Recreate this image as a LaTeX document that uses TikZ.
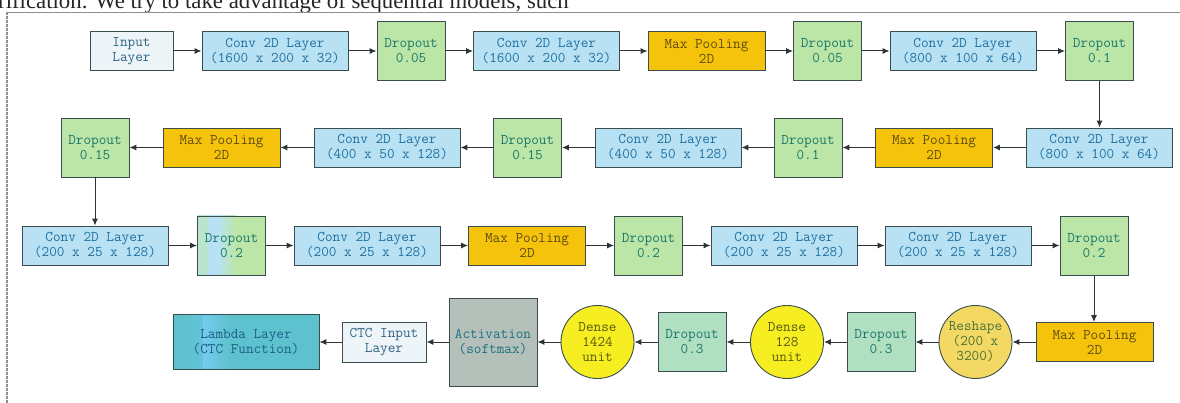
\documentclass[tikz,border=0pt]{standalone}
\usepackage{fontspec}
\setmainfont{Liberation Serif}
\usetikzlibrary{arrows.meta}

\definecolor{convfill}{HTML}{B8E2F4}
\definecolor{dropfill}{HTML}{BCE5A8}
\definecolor{mintfill}{HTML}{B0DFC2}
\definecolor{poolfill}{HTML}{F6C30C}
\definecolor{densefill}{HTML}{F7EE22}
\definecolor{reshapefill}{HTML}{F3D863}
\definecolor{actfill}{HTML}{B5C0BB}
\definecolor{lambdafill}{HTML}{5EC2CE}
\definecolor{lambdaband}{HTML}{74CBEF}
\definecolor{inputfill}{HTML}{EEF5F8}
\definecolor{edgecol}{HTML}{3A4C4C}
\definecolor{convtext}{HTML}{1F70A0}
\definecolor{droptext}{HTML}{1A7868}
\definecolor{pooltext}{HTML}{5E4C0E}
\definecolor{densetext}{HTML}{55590A}
\definecolor{reshapetext}{HTML}{4A7236}
\definecolor{inputtext}{HTML}{2F6284}
\definecolor{acttext}{HTML}{187080}
\definecolor{arrowcol}{HTML}{2E3434}
\definecolor{framecol}{HTML}{8A8F8F}

\begin{document}
\begin{tikzpicture}[x=1pt, y=-1pt,
  layer/.style={draw=edgecol, line width=0.9pt, align=center, inner sep=0pt,
    font=\ttfamily\fontsize{14.8}{15}\selectfont},
  inputbox/.style={layer, fill=inputfill, text=inputtext, minimum width=83, minimum height=39},
  convbox/.style={layer, fill=convfill, text=convtext, minimum width=146, minimum height=39},
  dropbox/.style={layer, fill=dropfill, text=droptext, minimum width=68, minimum height=59},
  mintbox/.style={layer, fill=mintfill, text=droptext, minimum width=68, minimum height=59},
  poolbox/.style={layer, fill=poolfill, text=pooltext, minimum width=117, minimum height=39},
  densecirc/.style={layer, circle, fill=densefill, text=densetext, minimum size=73},
  reshapecirc/.style={layer, circle, fill=reshapefill, text=reshapetext, minimum size=73},
  arr/.style={draw=arrowcol, line width=1pt, -{Latex[length=7pt,width=6pt]}}
]
\clip (0,0) rectangle (1180,403);
\fill[white] (0,0) rectangle (1180,403);

% running text of the page above the figure
\node[anchor=base west, inner sep=0pt, font=\fontsize{22.8}{26}\selectfont, text=black!85]
  (pagetext) at (-2,8.5) {rification. We try to take advantage of sequential models, such};

% figure frame
\draw[framecol, line width=0.8pt] (7,12) -- (1180,12);
\draw[framecol, line width=1.2pt, dash pattern=on 3pt off 1pt] (7,12) -- (7,403);

% row 1 (left to right)
\node[inputbox] (in1) at (131.5,51) {Input\\Layer};
\node[convbox]  (c1)  at (275,51)   {Conv 2D Layer\\(1600 x 200 x 32)};
\node[dropbox]  (d1)  at (411,51)   {Dropout\\0.05};
\node[convbox]  (c2)  at (546.5,51) {Conv 2D Layer\\(1600 x 200 x 32)};
\node[poolbox]  (m1)  at (706.5,51) {Max Pooling\\2D};
\node[dropbox]  (d2)  at (827.5,51) {Dropout\\0.05};
\node[convbox]  (c3)  at (963,51)   {Conv 2D Layer\\(800 x 100 x 64)};
\node[dropbox]  (d3)  at (1099.5,51) {Dropout\\0.1};

% row 2 (right to left)
\node[convbox]  (c4)  at (1099,147.5) {Conv 2D Layer\\(800 x 100 x 64)};
\node[poolbox]  (m2)  at (934,147.5)  {Max Pooling\\2D};
\node[dropbox]  (d4)  at (808,147.5)  {Dropout\\0.1};
\node[convbox]  (c5)  at (668,147.5)  {Conv 2D Layer\\(400 x 50 x 128)};
\node[dropbox]  (d5)  at (527.5,147.5) {Dropout\\0.15};
\node[convbox]  (c6)  at (387,147.5)  {Conv 2D Layer\\(400 x 50 x 128)};
\node[poolbox]  (m3)  at (221.5,147.5) {Max Pooling\\2D};
\node[dropbox]  (d6)  at (95,147.5)   {Dropout\\0.15};

% row 3 (left to right)
\node[convbox]  (c7)  at (95,245.5)   {Conv 2D Layer\\(200 x 25 x 128)};
\node[dropbox, path picture={
    \shade[left color=dropfill!55!convfill, right color=convfill]
      (path picture bounding box.south west) rectangle ++(10,-60);
    \fill[convfill] ([xshift=10pt]path picture bounding box.south west) rectangle ++(10,-60);
    \shade[left color=convfill, right color=dropfill]
      ([xshift=20pt]path picture bounding box.south west) rectangle ++(18,-60);
  }]            (d7)  at (231.5,245.5) {Dropout\\0.2};
\node[convbox]  (c8)  at (367,245.5)  {Conv 2D Layer\\(200 x 25 x 128)};
\node[poolbox]  (m4)  at (527,245.5)  {Max Pooling\\2D};
\node[dropbox]  (d8)  at (648.5,245.5) {Dropout\\0.2};
\node[convbox]  (c9)  at (784,245.5)  {Conv 2D Layer\\(200 x 25 x 128)};
\node[convbox]  (c10) at (958,245.5)  {Conv 2D Layer\\(200 x 25 x 128)};
\node[dropbox]  (d9)  at (1094,245.5) {Dropout\\0.2};

% row 4 (right to left)
\node[poolbox]     (m5)  at (1094.5,342) {Max Pooling\\2D};
\node[reshapecirc] (rs)  at (975.5,342)  {Reshape\\(200 x\\3200)};
\node[mintbox]     (d10) at (881,342)    {Dropout\\0.3};
\node[densecirc]   (dn1) at (787,342)    {Dense\\128\\unit};
\node[mintbox]     (d11) at (692,342)    {Dropout\\0.3};
\node[densecirc]   (dn2) at (597.5,342)  {Dense\\1424\\unit};
\node[layer, fill=actfill, text=acttext, minimum width=88, minimum height=88]
                   (act) at (493,342)    {Activation\\(softmax)};
\node[inputbox, minimum width=84, minimum height=40]
                   (ctc) at (384,342)    {CTC Input\\Layer};
\node[layer, fill=lambdafill, text=convtext!85!black, minimum width=146, minimum height=55,
  path picture={
    \shade[left color=lambdafill, right color=lambdaband]
      ([xshift=18pt]path picture bounding box.south west) rectangle ++(12,-56);
    \shade[left color=lambdaband, right color=lambdafill]
      ([xshift=30pt]path picture bounding box.south west) rectangle ++(26,-56);
  }]               (lam) at (246,342)    {Lambda Layer\\(CTC Function)};

% connectors
\draw[arr] (in1) -- (c1);
\draw[arr] (c1) -- (d1);
\draw[arr] (d1) -- (c2);
\draw[arr] (c2) -- (m1);
\draw[arr] (m1) -- (d2);
\draw[arr] (d2) -- (c3);
\draw[arr] (c3) -- (d3);
\draw[arr] (d3.south) -- (d3.south |- c4.north);

\draw[arr] (c4) -- (m2);
\draw[arr] (m2) -- (d4);
\draw[arr] (d4) -- (c5);
\draw[arr] (c5) -- (d5);
\draw[arr] (d5) -- (c6);
\draw[arr] (c6) -- (m3);
\draw[arr] (m3) -- (d6);
\draw[arr] (d6.south) -- (d6.south |- c7.north);

\draw[arr] (c7) -- (d7);
\draw[arr] (d7) -- (c8);
\draw[arr] (c8) -- (m4);
\draw[arr] (m4) -- (d8);
\draw[arr] (d8) -- (c9);
\draw[arr] (c9) -- (c10);
\draw[arr] (c10) -- (d9);
\draw[arr] (d9.south) -- (d9.south |- m5.north);

\draw[arr] (m5) -- (rs);
\draw[arr] (rs) -- (d10);
\draw[arr] (d10) -- (dn1);
\draw[arr] (dn1) -- (d11);
\draw[arr] (d11) -- (dn2);
\draw[arr] (dn2) -- (act);
\draw[arr] (act) -- (ctc);
\draw[arr] (ctc) -- (lam);
\end{tikzpicture}
\end{document}
